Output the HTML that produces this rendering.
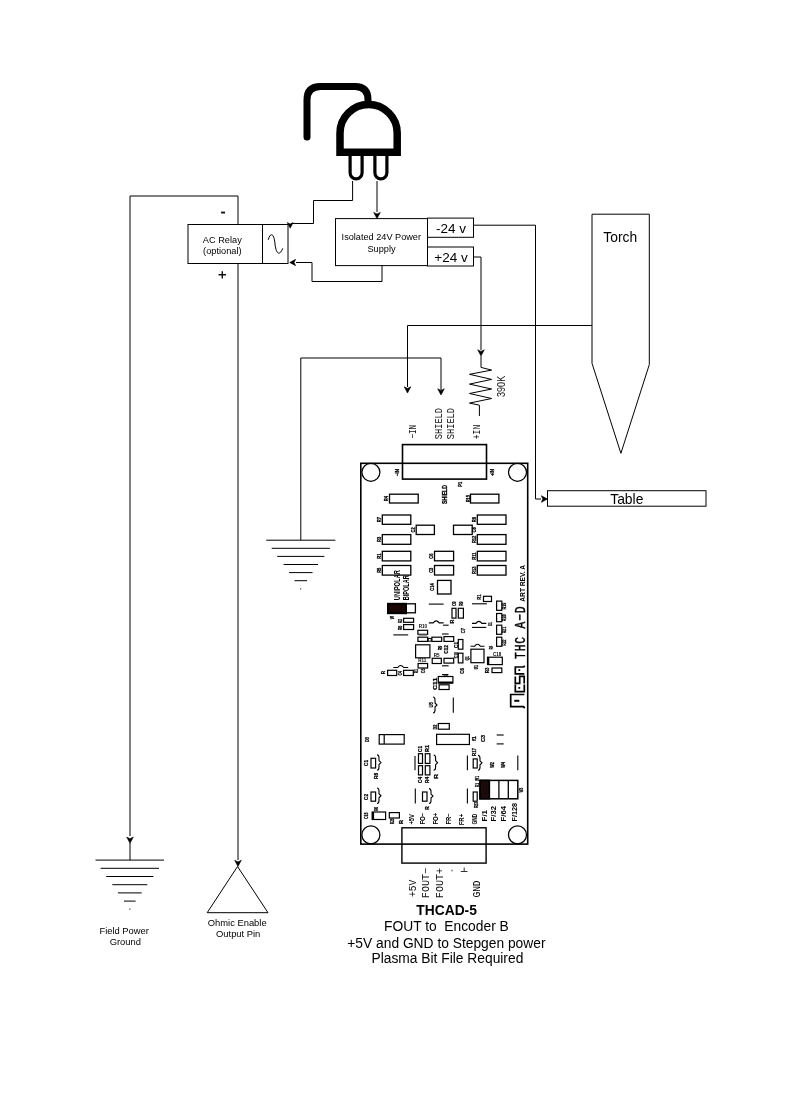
<!DOCTYPE html>
<html><head><meta charset="utf-8"><style>
html,body{margin:0;padding:0;background:#fff;}
body{width:787px;height:1114px;overflow:hidden;}
svg{display:block;will-change:transform;}
</style></head><body>
<svg width="787" height="1114" viewBox="0 0 787 1114">
<rect width="787" height="1114" fill="#fff"/>
<path d="M307,137 L307,100 Q307,86.5 320.5,86.5 L355,86.5 Q368,86.5 368,100 L368,104" fill="none" stroke="#000" stroke-width="7" stroke-linecap="round"/>
<path d="M340,152.2 L340,133 A28.6,28.6 0 0 1 397.2,133 L397.2,152.2 Z" fill="#fff" stroke="#000" stroke-width="7.5" stroke-linejoin="miter"/>
<path d="M350.1,156 L350.1,172.8 A6,6 0 0 0 362.1,172.8 L362.1,156" fill="none" stroke="#000" stroke-width="3.2"/>
<path d="M374.9,156 L374.9,172.8 A6,6 0 0 0 386.9,172.8 L386.9,156" fill="none" stroke="#000" stroke-width="3.2"/>
<path d="M352.6,181 L352.6,200.5 L313.5,200.5 L313.5,223.5 L291,223.5" fill="none" stroke="#000" stroke-width="1" />
<path d="M290.2,228.2 L287.22999999999996,222.61999999999998 L290.2,224.06 L293.17,222.61999999999998 Z" fill="#000" stroke="#000" stroke-width="0.6" stroke-linejoin="miter"/>
<path d="M377,181 L377,212" fill="none" stroke="#000" stroke-width="1" />
<path d="M377,218.6 L373.7,212.4 L377,214.0 L380.3,212.4 Z" fill="#000" stroke="#000" stroke-width="0.6" stroke-linejoin="miter"/>
<path d="M382,265.5 L382,281.5 L312,281.5 L312,262.5 L296,262.5" fill="none" stroke="#000" stroke-width="1" />
<path d="M289.7,262.5 L295.59,259.365 L294.07,262.5 L295.59,265.635 Z" fill="#000" stroke="#000" stroke-width="0.6" stroke-linejoin="miter"/>
<rect x="188" y="224.5" width="100" height="39" fill="none" stroke="#000" stroke-width="1" />
<path d="M262.5,224.5 L262.5,263.5" fill="none" stroke="#000" stroke-width="1" />
<path d="M268.2,239.8 C270.5,232 274,233 275,244 C276.2,255 280,255.5 282.7,248.4" fill="none" stroke="#000" stroke-width="1"/>
<text x="222.3" y="243.1" font-family="Liberation Sans" font-size="9.7" font-weight="normal" text-anchor="middle" fill="#000" textLength="38.9" lengthAdjust="spacingAndGlyphs">AC Relay</text>
<text x="222.3" y="253.6" font-family="Liberation Sans" font-size="9.7" font-weight="normal" text-anchor="middle" fill="#000" textLength="38.4" lengthAdjust="spacingAndGlyphs">(optional)</text>
<rect x="221.1" y="211.6" width="3.9" height="1.9" fill="#111"/>
<path d="M218.6,274.8 L226,274.8 M222.3,271.2 L222.3,278.4" stroke="#111" stroke-width="1.4"/>
<path d="M130,836 L130,196 L238,196 L238,224.5" fill="none" stroke="#000" stroke-width="1" />
<path d="M130,843.3 L126.7,837.0999999999999 L130,838.6999999999999 L133.3,837.0999999999999 Z" fill="#000" stroke="#000" stroke-width="0.6" stroke-linejoin="miter"/>
<path d="M130,843 L130,860.1" fill="none" stroke="#000" stroke-width="1" />
<path d="M238,263.5 L238,860" fill="none" stroke="#000" stroke-width="1" />
<path d="M238,866.5 L234.7,860.3 L238,861.9 L241.3,860.3 Z" fill="#000" stroke="#000" stroke-width="0.6" stroke-linejoin="miter"/>
<rect x="335.5" y="218.6" width="92" height="47" fill="none" stroke="#000" stroke-width="1" />
<text x="381.3" y="240.4" font-family="Liberation Sans" font-size="9.5" font-weight="normal" text-anchor="middle" fill="#000" textLength="79.4" lengthAdjust="spacingAndGlyphs">Isolated 24V Power</text>
<text x="381.5" y="251.5" font-family="Liberation Sans" font-size="9.2" font-weight="normal" text-anchor="middle" fill="#000" >Supply</text>
<rect x="427.5" y="218.1" width="46" height="19.2" fill="none" stroke="#000" stroke-width="1" />
<text x="451" y="232.5" font-family="Liberation Sans" font-size="13.5" font-weight="normal" text-anchor="middle" fill="#000" >-24 v</text>
<rect x="427.5" y="247" width="46" height="19" fill="none" stroke="#000" stroke-width="1" />
<text x="451" y="261.5" font-family="Liberation Sans" font-size="13.5" font-weight="normal" text-anchor="middle" fill="#000" >+24 v</text>
<path d="M473.5,225.2 L535.5,225.2 L535.5,499 L541,499" fill="none" stroke="#000" stroke-width="1" />
<path d="M547.5,499 L541.3,495.7 L542.9,499 L541.3,502.3 Z" fill="#000" stroke="#000" stroke-width="0.6" stroke-linejoin="miter"/>
<rect x="547.5" y="490.7" width="158.5" height="15.5" fill="none" stroke="#000" stroke-width="1" />
<text x="626.8" y="503.8" font-family="Liberation Sans" font-size="13.9" font-weight="normal" text-anchor="middle" fill="#000" >Table</text>
<path d="M473.5,257 L481,257 L481,350" fill="none" stroke="#000" stroke-width="1" />
<path d="M481,356 L477.7,349.8 L481,351.4 L484.3,349.8 Z" fill="#000" stroke="#000" stroke-width="0.6" stroke-linejoin="miter"/>
<path d="M481,356 L481,367.4 L491.6,370.1 L469.5,374.3 L491.6,379.4 L469.5,384.1 L491.6,389 L469.5,393.5 L491.6,398.5 L469.5,403.1 L479.4,405.2 L479.4,416" fill="none" stroke="#000" stroke-width="1" />
<text font-family="Liberation Sans" font-size="10.4" font-weight="normal" fill="#111" textLength="21.2" lengthAdjust="spacingAndGlyphs" transform="translate(504.9 397) rotate(-90)">390K</text>
<path d="M592,214.2 L649.3,214.2 L649.3,364.6 L620.9,453.3 L592,363.3 Z" fill="none" stroke="#000" stroke-width="1"/>
<text x="620.2" y="242" font-family="Liberation Sans" font-size="13.8" font-weight="normal" text-anchor="middle" fill="#000" >Torch</text>
<path d="M592,325.5 L407.5,325.5 L407.5,387" fill="none" stroke="#000" stroke-width="1" />
<path d="M407.5,393 L404.2,386.8 L407.5,388.4 L410.8,386.8 Z" fill="#000" stroke="#000" stroke-width="0.6" stroke-linejoin="miter"/>
<path d="M300.8,540.2 L300.8,358 L441,358 L441,390" fill="none" stroke="#000" stroke-width="1" />
<path d="M441,395 L437.7,388.8 L441,390.4 L444.3,388.8 Z" fill="#000" stroke="#000" stroke-width="0.6" stroke-linejoin="miter"/>
<path d="M266.2,540.2 L335.40000000000003,540.2" stroke="#000" stroke-width="1"/>
<path d="M271.7,548.3000000000001 L329.90000000000003,548.3000000000001" stroke="#000" stroke-width="1"/>
<path d="M277.2,556.4000000000001 L324.40000000000003,556.4000000000001" stroke="#000" stroke-width="1"/>
<path d="M283.6,564.5 L318.0,564.5" stroke="#000" stroke-width="1"/>
<path d="M289.1,572.6 L312.5,572.6" stroke="#000" stroke-width="1"/>
<path d="M294.5,580.7 L307.1,580.7" stroke="#000" stroke-width="1"/>
<rect x="300" y="588.3" width="1.2" height="1.2" fill="#444"/>
<path d="M95.50000000000001,860.1 L164.10000000000002,860.1" stroke="#000" stroke-width="1"/>
<path d="M100.60000000000001,868.3000000000001 L159.0,868.3000000000001" stroke="#000" stroke-width="1"/>
<path d="M106.20000000000002,876.5 L153.4,876.5" stroke="#000" stroke-width="1"/>
<path d="M112.30000000000001,884.7 L147.3,884.7" stroke="#000" stroke-width="1"/>
<path d="M117.9,892.9 L141.70000000000002,892.9" stroke="#000" stroke-width="1"/>
<path d="M124.00000000000001,901.1 L135.60000000000002,901.1" stroke="#000" stroke-width="1"/>
<rect x="129.2" y="908.5" width="1.2" height="1.2" fill="#444"/>
<text x="124.2" y="934.3" font-family="Liberation Sans" font-size="9.4" font-weight="normal" text-anchor="middle" fill="#000" >Field Power</text>
<text x="125.3" y="944.7" font-family="Liberation Sans" font-size="9.4" font-weight="normal" text-anchor="middle" fill="#000" >Ground</text>
<path d="M237.5,866.5 L268,912.7 L207.2,912.7 Z" fill="none" stroke="#000" stroke-width="1"/>
<text x="237.2" y="926.3" font-family="Liberation Sans" font-size="9.4" font-weight="normal" text-anchor="middle" fill="#000" >Ohmic Enable</text>
<text x="238.2" y="937.2" font-family="Liberation Sans" font-size="9.4" font-weight="normal" text-anchor="middle" fill="#000" >Output Pin</text>
<text x="446.6" y="915.2" font-family="Liberation Sans" font-size="13.8" font-weight="bold" text-anchor="middle" fill="#000" >THCAD-5</text>
<text x="446.4" y="931.3" font-family="Liberation Sans" font-size="13.8" font-weight="normal" text-anchor="middle" fill="#000" >FOUT to&#160; Encoder B</text>
<text x="446.4" y="947.8" font-family="Liberation Sans" font-size="13.8" font-weight="normal" text-anchor="middle" fill="#000" >+5V and GND to Stepgen power</text>
<text x="447.4" y="962.6" font-family="Liberation Sans" font-size="13.8" font-weight="normal" text-anchor="middle" fill="#000" >Plasma Bit File Required</text>
<rect x="402.5" y="444.6" width="84" height="34.5" fill="none" stroke="#000" stroke-width="1.6" />
<rect x="360.8" y="463.3" width="166.9" height="380.8" fill="none" stroke="#000" stroke-width="1.6" />
<circle cx="370.9" cy="472.3" r="9.0" fill="none" stroke="#000" stroke-width="1.25"/>
<circle cx="517.5" cy="472.3" r="9.0" fill="none" stroke="#000" stroke-width="1.25"/>
<circle cx="370.9" cy="834.9" r="9.0" fill="none" stroke="#000" stroke-width="1.25"/>
<circle cx="517.5" cy="834.9" r="9.0" fill="none" stroke="#000" stroke-width="1.25"/>
<rect x="401.9" y="827.8" width="84.2" height="35.3" fill="none" stroke="#000" stroke-width="1.4" />
<text font-family="Liberation Mono" font-size="10.6" font-weight="normal" fill="#111" textLength="13.8" lengthAdjust="spacingAndGlyphs" transform="translate(416.2 438.6) rotate(-90)">&#8722;IN</text>
<text font-family="Liberation Mono" font-size="10.6" font-weight="normal" fill="#111" textLength="31.2" lengthAdjust="spacingAndGlyphs" transform="translate(441.6 439.2) rotate(-90)">SHIELD</text>
<text font-family="Liberation Mono" font-size="10.6" font-weight="normal" fill="#111" textLength="31.2" lengthAdjust="spacingAndGlyphs" transform="translate(454.4 439.2) rotate(-90)">SHIELD</text>
<text font-family="Liberation Mono" font-size="10.6" font-weight="normal" fill="#111" textLength="14.4" lengthAdjust="spacingAndGlyphs" transform="translate(479.8 439.2) rotate(-90)">+IN</text>
<text font-family="Liberation Mono" font-size="10.6" font-weight="normal" fill="#111" textLength="17.2" lengthAdjust="spacingAndGlyphs" transform="translate(415.6 897) rotate(-90)">+5V</text>
<text font-family="Liberation Mono" font-size="10.6" font-weight="normal" fill="#111" textLength="30.4" lengthAdjust="spacingAndGlyphs" transform="translate(429.4 898.2) rotate(-90)">FOUT&#8722;</text>
<text font-family="Liberation Mono" font-size="10.6" font-weight="normal" fill="#111" textLength="30.4" lengthAdjust="spacingAndGlyphs" transform="translate(442.5 898.2) rotate(-90)">FOUT+</text>
<path d="M452,869.6 L452,871.4" stroke="#444" stroke-width="1"/>
<path d="M460.8,871.5 L467.5,871.5 M464.2,867.5 L464.2,871.5" stroke="#333" stroke-width="1"/>
<text font-family="Liberation Mono" font-size="10.6" font-weight="normal" fill="#000" textLength="17.2" lengthAdjust="spacingAndGlyphs" transform="translate(480.2 897.6) rotate(-90)">GND</text>
<rect x="389.5" y="494.2" width="28.69999999999999" height="8.800000000000011" fill="none" stroke="#000" stroke-width="1.3" />
<rect x="470.5" y="494.2" width="28.399999999999977" height="8.800000000000011" fill="none" stroke="#000" stroke-width="1.3" />
<rect x="382.3" y="515" width="28.5" height="9.299999999999955" fill="none" stroke="#000" stroke-width="1.3" />
<rect x="477.3" y="515" width="28.69999999999999" height="9.299999999999955" fill="none" stroke="#000" stroke-width="1.3" />
<rect x="382.3" y="534.6" width="28.5" height="9.699999999999932" fill="none" stroke="#000" stroke-width="1.3" />
<rect x="477.3" y="534.6" width="28.69999999999999" height="9.699999999999932" fill="none" stroke="#000" stroke-width="1.3" />
<rect x="382.3" y="551.3" width="28.5" height="9.600000000000023" fill="none" stroke="#000" stroke-width="1.3" />
<rect x="477.3" y="551.3" width="28.69999999999999" height="9.600000000000023" fill="none" stroke="#000" stroke-width="1.3" />
<rect x="382.3" y="565.5" width="28.5" height="9.600000000000023" fill="none" stroke="#000" stroke-width="1.3" />
<rect x="477.3" y="565.5" width="28.69999999999999" height="9.600000000000023" fill="none" stroke="#000" stroke-width="1.3" />
<rect x="416.2" y="525.2" width="18.19999999999999" height="9.299999999999955" fill="none" stroke="#000" stroke-width="1.3" />
<rect x="453.5" y="525.2" width="18.69999999999999" height="9.299999999999955" fill="none" stroke="#000" stroke-width="1.3" />
<rect x="434.5" y="551.3" width="19.100000000000023" height="9.5" fill="none" stroke="#000" stroke-width="1.3" />
<rect x="434.5" y="565.5" width="19.100000000000023" height="9.5" fill="none" stroke="#000" stroke-width="1.3" />
<rect x="437.5" y="580.4" width="13.5" height="13.600000000000023" fill="none" stroke="#000" stroke-width="1.3" />
<text font-family="Liberation Sans" font-size="5.5" font-weight="bold" fill="#000" stroke="#000" stroke-width="0.3" transform="translate(399 472.5) rotate(-90) scale(0.8 1)" text-anchor="middle">&#8722;IN</text>
<text font-family="Liberation Sans" font-size="5.5" font-weight="bold" fill="#000" stroke="#000" stroke-width="0.3" transform="translate(494 472.5) rotate(-90) scale(0.8 1)" text-anchor="middle">+IN</text>
<text font-family="Liberation Sans" font-size="6.5" font-weight="bold" fill="#000" stroke="#000" stroke-width="0.3" transform="translate(447 494.5) rotate(-90) scale(0.8 1)" text-anchor="middle">SHIELD</text>
<text font-family="Liberation Sans" font-size="5" font-weight="bold" fill="#000" stroke="#000" stroke-width="0.3" transform="translate(462 484.2) rotate(-90) scale(0.8 1)" text-anchor="middle">P1</text>
<text font-family="Liberation Sans" font-size="5" font-weight="bold" fill="#000" stroke="#000" stroke-width="0.3" transform="translate(387.8 498.6) rotate(-90) scale(0.8 1)" text-anchor="middle">R4</text>
<text font-family="Liberation Sans" font-size="5" font-weight="bold" fill="#000" stroke="#000" stroke-width="0.3" transform="translate(469.5 498.6) rotate(-90) scale(0.8 1)" text-anchor="middle">R15</text>
<text font-family="Liberation Sans" font-size="5" font-weight="bold" fill="#000" stroke="#000" stroke-width="0.3" transform="translate(381 519.7) rotate(-90) scale(0.8 1)" text-anchor="middle">R7</text>
<text font-family="Liberation Sans" font-size="5" font-weight="bold" fill="#000" stroke="#000" stroke-width="0.3" transform="translate(381 539.4) rotate(-90) scale(0.8 1)" text-anchor="middle">R3</text>
<text font-family="Liberation Sans" font-size="5" font-weight="bold" fill="#000" stroke="#000" stroke-width="0.3" transform="translate(381 556.1) rotate(-90) scale(0.8 1)" text-anchor="middle">R1</text>
<text font-family="Liberation Sans" font-size="5" font-weight="bold" fill="#000" stroke="#000" stroke-width="0.3" transform="translate(381 570.3) rotate(-90) scale(0.8 1)" text-anchor="middle">R5</text>
<text font-family="Liberation Sans" font-size="5" font-weight="bold" fill="#000" stroke="#000" stroke-width="0.3" transform="translate(476 519.7) rotate(-90) scale(0.8 1)" text-anchor="middle">R8</text>
<text font-family="Liberation Sans" font-size="5" font-weight="bold" fill="#000" stroke="#000" stroke-width="0.3" transform="translate(476 539.4) rotate(-90) scale(0.8 1)" text-anchor="middle">R12</text>
<text font-family="Liberation Sans" font-size="5" font-weight="bold" fill="#000" stroke="#000" stroke-width="0.3" transform="translate(476 556.1) rotate(-90) scale(0.8 1)" text-anchor="middle">R11</text>
<text font-family="Liberation Sans" font-size="5" font-weight="bold" fill="#000" stroke="#000" stroke-width="0.3" transform="translate(476 570.3) rotate(-90) scale(0.8 1)" text-anchor="middle">R13</text>
<text font-family="Liberation Sans" font-size="5" font-weight="bold" fill="#000" stroke="#000" stroke-width="0.3" transform="translate(414.5 529.9) rotate(-90) scale(0.8 1)" text-anchor="middle">C2</text>
<text font-family="Liberation Sans" font-size="5" font-weight="bold" fill="#000" stroke="#000" stroke-width="0.3" transform="translate(476 529.9) rotate(-90) scale(0.8 1)" text-anchor="middle">C8</text>
<text font-family="Liberation Sans" font-size="5" font-weight="bold" fill="#000" stroke="#000" stroke-width="0.3" transform="translate(433 556.1) rotate(-90) scale(0.8 1)" text-anchor="middle">C6</text>
<text font-family="Liberation Sans" font-size="5" font-weight="bold" fill="#000" stroke="#000" stroke-width="0.3" transform="translate(433 570.3) rotate(-90) scale(0.8 1)" text-anchor="middle">C3</text>
<text font-family="Liberation Sans" font-size="5" font-weight="bold" fill="#000" stroke="#000" stroke-width="0.3" transform="translate(434 587) rotate(-90) scale(0.8 1)" text-anchor="middle">C14</text>
<text font-family="Liberation Sans" font-size="8.6" font-weight="bold" fill="#000" textLength="30.2" lengthAdjust="spacingAndGlyphs" transform="translate(399.6 600.2) rotate(-90)">UNIPOLAR</text>
<text font-family="Liberation Sans" font-size="8.6" font-weight="bold" fill="#000" textLength="24.9" lengthAdjust="spacingAndGlyphs" transform="translate(409.0 600.2) rotate(-90)">BIPOLAR</text>
<rect x="405" y="603.8" width="10.4" height="9" fill="none" stroke="#000" stroke-width="1.3" />
<rect x="388" y="603.8" width="18" height="9.4" fill="#1a0505" stroke="#000" stroke-width="2" />
<text font-family="Liberation Sans" font-size="7.4" font-weight="bold" fill="#000" transform="translate(524.9 601.7) rotate(-90) scale(0.9 1)">ART REV. A</text>
<text font-family="Liberation Mono" font-size="15.2" fill="#000" stroke="#000" stroke-width="0.45" letter-spacing="1.05" transform="translate(524.6 658.9) rotate(-90) scale(0.75 1)">THC A&#8722;D</text>
<path d="M523.8,667 L515.3,667 L515.3,673.8 L524.4,673.8 M523.6,667.2 L524.6,665.6" fill="none" stroke="#000" stroke-width="1.7" stroke-linejoin="miter"/>
<rect x="518.4" y="669.2" width="1.8" height="1.8" fill="#000"/>
<path d="M515.3,676.4 L515.3,683.4 L519.7,683.4 L519.7,676.4 L524.2,676.4 L524.2,683.4" fill="none" stroke="#000" stroke-width="1.7" stroke-linejoin="miter"/>
<path d="M515.3,684.6 L515.3,691.6 L524.3,691.6 L524.3,684.6" fill="none" stroke="#000" stroke-width="1.7" stroke-linejoin="miter"/>
<rect x="518.4" y="687" width="1.8" height="1.8" fill="#000"/>
<path d="M524.4,694.5 L510.7,694.5 L510.7,706.6 L523.6,706.6 L524.6,708.3" fill="none" stroke="#000" stroke-width="1.7" stroke-linejoin="miter"/>
<path d="M514.3,700.8 L519.3,700.8" stroke="#000" stroke-width="2"/>
<rect x="403.6" y="618.3" width="10.0" height="4.0" fill="none" stroke="#000" stroke-width="1.2" />
<rect x="403.6" y="624.6" width="10.0" height="4.899999999999977" fill="none" stroke="#000" stroke-width="1.2" />
<rect x="417.9" y="630.3" width="9.700000000000045" height="4.0" fill="none" stroke="#000" stroke-width="1.2" />
<rect x="417.9" y="637.2" width="9.700000000000045" height="4.199999999999932" fill="none" stroke="#000" stroke-width="1.2" />
<rect x="431.9" y="637.2" width="9.800000000000011" height="4.199999999999932" fill="none" stroke="#000" stroke-width="1.2" />
<rect x="415.6" y="644.8" width="14.299999999999955" height="13.0" fill="none" stroke="#000" stroke-width="1.2" />
<rect x="418.1" y="663.5" width="9.5" height="4.5" fill="none" stroke="#000" stroke-width="1.2" />
<rect x="387.6" y="670.3" width="9.099999999999966" height="5.2000000000000455" fill="none" stroke="#000" stroke-width="1.2" />
<rect x="403.6" y="670.3" width="9.699999999999989" height="5.2000000000000455" fill="none" stroke="#000" stroke-width="1.2" />
<rect x="432.2" y="658.3" width="9.100000000000023" height="5.2000000000000455" fill="none" stroke="#000" stroke-width="1.2" />
<rect x="483.5" y="596.3" width="8.0" height="5.2000000000000455" fill="none" stroke="#000" stroke-width="1.2" />
<rect x="452" y="608.3" width="4" height="9.800000000000068" fill="none" stroke="#000" stroke-width="1.2" />
<rect x="458.3" y="608.3" width="5.099999999999966" height="9.800000000000068" fill="none" stroke="#000" stroke-width="1.2" />
<rect x="496.6" y="601.1" width="5.199999999999989" height="9.199999999999932" fill="none" stroke="#000" stroke-width="1.2" />
<rect x="496.6" y="613.5" width="5.199999999999989" height="8.200000000000045" fill="none" stroke="#000" stroke-width="1.2" />
<rect x="496.6" y="625.2" width="5.199999999999989" height="9.099999999999909" fill="none" stroke="#000" stroke-width="1.2" />
<rect x="496.6" y="637.2" width="5.199999999999989" height="9.099999999999909" fill="none" stroke="#000" stroke-width="1.2" />
<rect x="444" y="636.6" width="9.699999999999989" height="4.7999999999999545" fill="none" stroke="#000" stroke-width="1.2" />
<rect x="458.3" y="639.5" width="4.599999999999966" height="9.700000000000045" fill="none" stroke="#000" stroke-width="1.2" />
<rect x="458.3" y="653.2" width="4.599999999999966" height="9.699999999999932" fill="none" stroke="#000" stroke-width="1.2" />
<rect x="444" y="658.3" width="9.699999999999989" height="4.800000000000068" fill="none" stroke="#000" stroke-width="1.2" />
<rect x="470.9" y="649.2" width="13.100000000000023" height="13.5" fill="none" stroke="#000" stroke-width="1.2" />
<rect x="487.5" y="657.2" width="14.800000000000011" height="7.399999999999977" fill="none" stroke="#000" stroke-width="1.2" />
<rect x="492" y="668" width="9.800000000000011" height="4.600000000000023" fill="none" stroke="#000" stroke-width="1.2" />
<rect x="438.3" y="676.5" width="14.599999999999966" height="6.399999999999977" fill="none" stroke="#000" stroke-width="1.2" />
<rect x="439.1" y="684.8" width="10.0" height="4.7000000000000455" fill="none" stroke="#000" stroke-width="1.2" />
<rect x="438.3" y="723.5" width="11.0" height="5.7000000000000455" fill="none" stroke="#000" stroke-width="1.2" />
<rect x="436.6" y="734.3" width="32.799999999999955" height="10.200000000000045" fill="none" stroke="#000" stroke-width="1.2" />
<rect x="379.2" y="734.6" width="25.0" height="9.5" fill="none" stroke="#000" stroke-width="1.2" />
<rect x="371" y="758.3" width="4.600000000000023" height="9.700000000000045" fill="none" stroke="#000" stroke-width="1.2" />
<rect x="371" y="792" width="4.600000000000023" height="9.200000000000045" fill="none" stroke="#000" stroke-width="1.2" />
<rect x="372.2" y="812" width="13.400000000000034" height="7.5" fill="none" stroke="#000" stroke-width="1.2" />
<rect x="389.3" y="812.6" width="10.099999999999966" height="5.399999999999977" fill="none" stroke="#000" stroke-width="1.2" />
<rect x="418.5" y="753.7" width="4.0" height="9.699999999999932" fill="none" stroke="#000" stroke-width="1.2" />
<rect x="425.3" y="753.7" width="4.599999999999966" height="9.699999999999932" fill="none" stroke="#000" stroke-width="1.2" />
<rect x="418.5" y="765.7" width="4.0" height="9.199999999999932" fill="none" stroke="#000" stroke-width="1.2" />
<rect x="425.3" y="765.7" width="4.599999999999966" height="9.199999999999932" fill="none" stroke="#000" stroke-width="1.2" />
<rect x="422.5" y="792" width="4.5" height="9.200000000000045" fill="none" stroke="#000" stroke-width="1.2" />
<rect x="473.2" y="758.9" width="4.0" height="9.100000000000023" fill="none" stroke="#000" stroke-width="1.2" />
<rect x="473.2" y="792" width="4.0" height="9.200000000000045" fill="none" stroke="#000" stroke-width="1.2" />
<path d="M384.2,734.6 L384.2,744.1" fill="none" stroke="#000" stroke-width="1.2" />
<path d="M428.8,604.1 L443.6,604.1" fill="none" stroke="#000" stroke-width="1.1" />
<path d="M472,603.8 L486.9,603.8" fill="none" stroke="#000" stroke-width="1.1" />
<path d="M393.3,634.9 L408.2,634.9" fill="none" stroke="#000" stroke-width="1.1" />
<path d="M472,627.4 L486.3,627.4" fill="none" stroke="#000" stroke-width="1.1" />
<path d="M496.7,735 L503.7,735" fill="none" stroke="#000" stroke-width="1.1" />
<path d="M496.7,743.9 L503.7,743.9" fill="none" stroke="#000" stroke-width="1.1" />
<path d="M442,674.6 L448.4,674.6" fill="none" stroke="#000" stroke-width="1.1" />
<path d="M453.3,697.5 L453.3,712.7" fill="none" stroke="#000" stroke-width="1.1" />
<path d="M415,756 L415,770.3" fill="none" stroke="#000" stroke-width="1.1" />
<path d="M415.3,788.6 L415.3,803.5" fill="none" stroke="#000" stroke-width="1.1" />
<path d="M467.4,755.4 L467.4,770.3" fill="none" stroke="#000" stroke-width="1.1" />
<path d="M517.8,755.4 L517.8,770.3" fill="none" stroke="#000" stroke-width="1.1" />
<path d="M467.4,788.6 L467.4,803.5" fill="none" stroke="#000" stroke-width="1.1" />
<path d="M428.8,622.9 L433.2,622.9 Q436.2,618.9 439.2,622.9 L443.6,622.9" fill="none" stroke="#000" stroke-width="1.1"/>
<path d="M472,623.4 L475.9,623.4 Q478.9,619.4 481.9,623.4 L486.3,623.4" fill="none" stroke="#000" stroke-width="1.1"/>
<path d="M393.3,667.5 L397.7,667.5 Q400.7,663.5 403.7,667.5 L408.2,667.5" fill="none" stroke="#000" stroke-width="1.1"/>
<path d="M470.5,646.3 L474.5,646.3 Q477.5,642.3 480.5,646.3 L484.5,646.3" fill="none" stroke="#000" stroke-width="1.1"/>
<path d="M377,754.9 Q379,754.9 379,757.9 L379,760.5999999999999 L381,762.5999999999999 L379,764.5999999999999 L379,767.3 Q379,770.3 377,770.3" fill="none" stroke="#000" stroke-width="1.1"/>
<path d="M377,788 Q379,788 379,791 L379,793.75 L381,795.75 L379,797.75 L379,800.5 Q379,803.5 377,803.5" fill="none" stroke="#000" stroke-width="1.1"/>
<path d="M433.6,755 Q435.6,755 435.6,758 L435.6,760.65 L437.6,762.65 L435.6,764.65 L435.6,767.3 Q435.6,770.3 433.6,770.3" fill="none" stroke="#000" stroke-width="1.1"/>
<path d="M429,788.6 Q431,788.6 431,791.6 L431,794.05 L433,796.05 L431,798.05 L431,800.5 Q431,803.5 429,803.5" fill="none" stroke="#000" stroke-width="1.1"/>
<path d="M478,755.4 Q480,755.4 480,758.4 L480,760.8499999999999 L482,762.8499999999999 L480,764.8499999999999 L480,767.3 Q480,770.3 478,770.3" fill="none" stroke="#000" stroke-width="1.1"/>
<path d="M433,697 Q435,697 435,700 L435,703.0 L437,705.0 L435,707.0 L435,710 Q435,713 433,713" fill="none" stroke="#000" stroke-width="1.1"/>
<text font-family="Liberation Sans" font-size="5" font-weight="bold" fill="#000" stroke="#000" stroke-width="0.25" textLength="3.2000000000000455" lengthAdjust="spacingAndGlyphs" transform="translate(393.6 619.2) rotate(-90)">W</text>
<text font-family="Liberation Sans" font-size="5" font-weight="bold" fill="#000" stroke="#000" stroke-width="0.25" textLength="4.0" lengthAdjust="spacingAndGlyphs" transform="translate(401.8 622.9) rotate(-90)">R2</text>
<text font-family="Liberation Sans" font-size="5" font-weight="bold" fill="#000" stroke="#000" stroke-width="0.25" textLength="4.599999999999909" lengthAdjust="spacingAndGlyphs" transform="translate(401.8 630.3) rotate(-90)">R6</text>
<text font-family="Liberation Sans" font-size="5" font-weight="bold" fill="#000" stroke="#000" stroke-width="0.25" textLength="4.599999999999909" lengthAdjust="spacingAndGlyphs" transform="translate(441.8 650.3) rotate(-90)">R9</text>
<text font-family="Liberation Sans" font-size="5" font-weight="bold" fill="#000" stroke="#000" stroke-width="0.25" textLength="8.799999999999955" lengthAdjust="spacingAndGlyphs" transform="translate(447.6 653.8) rotate(-90)">C12</text>
<text font-family="Liberation Sans" font-size="5" font-weight="bold" fill="#000" stroke="#000" stroke-width="0.25" textLength="4.600000000000023" lengthAdjust="spacingAndGlyphs" transform="translate(424.7 673.2) rotate(-90)">C5</text>
<text font-family="Liberation Sans" font-size="5" font-weight="bold" fill="#000" stroke="#000" stroke-width="0.25" textLength="3.2999999999999545" lengthAdjust="spacingAndGlyphs" transform="translate(385.2 674.3) rotate(-90)">R</text>
<text font-family="Liberation Sans" font-size="5" font-weight="bold" fill="#000" stroke="#000" stroke-width="0.25" textLength="4.5" lengthAdjust="spacingAndGlyphs" transform="translate(402.40000000000003 675.5) rotate(-90)">C4</text>
<text font-family="Liberation Sans" font-size="5" font-weight="bold" fill="#000" stroke="#000" stroke-width="0.25" textLength="4.0" lengthAdjust="spacingAndGlyphs" transform="translate(417.8 673.2) rotate(-90)">R1</text>
<text font-family="Liberation Sans" font-size="5" font-weight="bold" fill="#000" stroke="#000" stroke-width="0.25" textLength="12.200000000000045" lengthAdjust="spacingAndGlyphs" transform="translate(437.3 690) rotate(-90)">C11</text>
<text font-family="Liberation Sans" font-size="5" font-weight="bold" fill="#000" stroke="#000" stroke-width="0.25" textLength="5.199999999999932" lengthAdjust="spacingAndGlyphs" transform="translate(481.3 599.8) rotate(-90)">R1</text>
<text font-family="Liberation Sans" font-size="5" font-weight="bold" fill="#000" stroke="#000" stroke-width="0.25" textLength="4.5" lengthAdjust="spacingAndGlyphs" transform="translate(455.5 606) rotate(-90)">C9</text>
<text font-family="Liberation Sans" font-size="5" font-weight="bold" fill="#000" stroke="#000" stroke-width="0.25" textLength="4.5" lengthAdjust="spacingAndGlyphs" transform="translate(463.0 606) rotate(-90)">R9</text>
<text font-family="Liberation Sans" font-size="5" font-weight="bold" fill="#000" stroke="#000" stroke-width="0.25" textLength="7.0" lengthAdjust="spacingAndGlyphs" transform="translate(506.40000000000003 609.5) rotate(-90)">R19</text>
<text font-family="Liberation Sans" font-size="5" font-weight="bold" fill="#000" stroke="#000" stroke-width="0.25" textLength="3.8999999999999773" lengthAdjust="spacingAndGlyphs" transform="translate(453.8 623.4) rotate(-90)">R</text>
<text font-family="Liberation Sans" font-size="5" font-weight="bold" fill="#000" stroke="#000" stroke-width="0.25" textLength="5.2000000000000455" lengthAdjust="spacingAndGlyphs" transform="translate(465.2 633.2) rotate(-90)">C7</text>
<text font-family="Liberation Sans" font-size="5" font-weight="bold" fill="#000" stroke="#000" stroke-width="0.25" textLength="3.400000000000091" lengthAdjust="spacingAndGlyphs" transform="translate(492.1 625.7) rotate(-90)">D1</text>
<text font-family="Liberation Sans" font-size="5" font-weight="bold" fill="#000" stroke="#000" stroke-width="0.25" textLength="6.7000000000000455" lengthAdjust="spacingAndGlyphs" transform="translate(506.40000000000003 621.2) rotate(-90)">R20</text>
<text font-family="Liberation Sans" font-size="5" font-weight="bold" fill="#000" stroke="#000" stroke-width="0.25" textLength="6.300000000000068" lengthAdjust="spacingAndGlyphs" transform="translate(506.40000000000003 633.2) rotate(-90)">R21</text>
<text font-family="Liberation Sans" font-size="5" font-weight="bold" fill="#000" stroke="#000" stroke-width="0.25" textLength="6.2000000000000455" lengthAdjust="spacingAndGlyphs" transform="translate(506.40000000000003 645.7) rotate(-90)">R22</text>
<text font-family="Liberation Sans" font-size="5" font-weight="bold" fill="#000" stroke="#000" stroke-width="0.25" textLength="3.5" lengthAdjust="spacingAndGlyphs" transform="translate(492.7 649.2) rotate(-90)">R4</text>
<text font-family="Liberation Sans" font-size="5" font-weight="bold" fill="#000" stroke="#000" stroke-width="0.25" textLength="6" lengthAdjust="spacingAndGlyphs" transform="translate(457.8 648) rotate(-90)">C1</text>
<text font-family="Liberation Sans" font-size="5" font-weight="bold" fill="#000" stroke="#000" stroke-width="0.25" textLength="6.2999999999999545" lengthAdjust="spacingAndGlyphs" transform="translate(457.8 658.3) rotate(-90)">C10</text>
<text font-family="Liberation Sans" font-size="5" font-weight="bold" fill="#000" stroke="#000" stroke-width="0.25" textLength="4.600000000000023" lengthAdjust="spacingAndGlyphs" transform="translate(469.2 660.6) rotate(-90)">Q1</text>
<text font-family="Liberation Sans" font-size="5" font-weight="bold" fill="#000" stroke="#000" stroke-width="0.25" textLength="4.0" lengthAdjust="spacingAndGlyphs" transform="translate(478.40000000000003 669.2) rotate(-90)">U1</text>
<text font-family="Liberation Sans" font-size="5" font-weight="bold" fill="#000" stroke="#000" stroke-width="0.25" textLength="5.7000000000000455" lengthAdjust="spacingAndGlyphs" transform="translate(488.7 673.2) rotate(-90)">R3</text>
<text font-family="Liberation Sans" font-size="5" font-weight="bold" fill="#000" stroke="#000" stroke-width="0.25" textLength="5.7999999999999545" lengthAdjust="spacingAndGlyphs" transform="translate(464.1 673.8) rotate(-90)">C6</text>
<text font-family="Liberation Sans" font-size="5" font-weight="bold" fill="#000" stroke="#000" stroke-width="0.25" textLength="5" lengthAdjust="spacingAndGlyphs" transform="translate(369.2 742) rotate(-90)">D3</text>
<text font-family="Liberation Sans" font-size="5" font-weight="bold" fill="#000" stroke="#000" stroke-width="0.25" textLength="5" lengthAdjust="spacingAndGlyphs" transform="translate(476.3 741) rotate(-90)">f1</text>
<text font-family="Liberation Sans" font-size="5" font-weight="bold" fill="#000" stroke="#000" stroke-width="0.25" textLength="7" lengthAdjust="spacingAndGlyphs" transform="translate(485.2 742) rotate(-90)">C3</text>
<text font-family="Liberation Sans" font-size="5" font-weight="bold" fill="#000" stroke="#000" stroke-width="0.25" textLength="6" lengthAdjust="spacingAndGlyphs" transform="translate(367.8 766) rotate(-90)">C1</text>
<text font-family="Liberation Sans" font-size="5" font-weight="bold" fill="#000" stroke="#000" stroke-width="0.25" textLength="6" lengthAdjust="spacingAndGlyphs" transform="translate(377.8 779) rotate(-90)">R8</text>
<text font-family="Liberation Sans" font-size="5" font-weight="bold" fill="#000" stroke="#000" stroke-width="0.25" textLength="6" lengthAdjust="spacingAndGlyphs" transform="translate(367.8 800) rotate(-90)">C2</text>
<text font-family="Liberation Sans" font-size="5" font-weight="bold" fill="#000" stroke="#000" stroke-width="0.25" textLength="4" lengthAdjust="spacingAndGlyphs" transform="translate(377.8 811) rotate(-90)">R6</text>
<text font-family="Liberation Sans" font-size="5" font-weight="bold" fill="#000" stroke="#000" stroke-width="0.25" textLength="6.5" lengthAdjust="spacingAndGlyphs" transform="translate(367.8 819) rotate(-90)">C15</text>
<text font-family="Liberation Sans" font-size="5" font-weight="bold" fill="#000" stroke="#000" stroke-width="0.25" textLength="5.5" lengthAdjust="spacingAndGlyphs" transform="translate(393.8 824) rotate(-90)">R25</text>
<text font-family="Liberation Sans" font-size="5" font-weight="bold" fill="#000" stroke="#000" stroke-width="0.25" textLength="4" lengthAdjust="spacingAndGlyphs" transform="translate(402.8 824) rotate(-90)">R</text>
<text font-family="Liberation Sans" font-size="5" font-weight="bold" fill="#000" stroke="#000" stroke-width="0.25" textLength="6" lengthAdjust="spacingAndGlyphs" transform="translate(422.3 752) rotate(-90)">C1</text>
<text font-family="Liberation Sans" font-size="5" font-weight="bold" fill="#000" stroke="#000" stroke-width="0.25" textLength="7" lengthAdjust="spacingAndGlyphs" transform="translate(429.3 752) rotate(-90)">R1</text>
<text font-family="Liberation Sans" font-size="5" font-weight="bold" fill="#000" stroke="#000" stroke-width="0.25" textLength="6" lengthAdjust="spacingAndGlyphs" transform="translate(422.3 783) rotate(-90)">C4</text>
<text font-family="Liberation Sans" font-size="5" font-weight="bold" fill="#000" stroke="#000" stroke-width="0.25" textLength="6" lengthAdjust="spacingAndGlyphs" transform="translate(429.3 783) rotate(-90)">R4</text>
<text font-family="Liberation Sans" font-size="5" font-weight="bold" fill="#000" stroke="#000" stroke-width="0.25" textLength="5" lengthAdjust="spacingAndGlyphs" transform="translate(438.3 779) rotate(-90)">R</text>
<text font-family="Liberation Sans" font-size="5" font-weight="bold" fill="#000" stroke="#000" stroke-width="0.25" textLength="3.5" lengthAdjust="spacingAndGlyphs" transform="translate(428.8 809.8) rotate(-90)">R</text>
<text font-family="Liberation Sans" font-size="5" font-weight="bold" fill="#000" stroke="#000" stroke-width="0.25" textLength="8" lengthAdjust="spacingAndGlyphs" transform="translate(475.8 756) rotate(-90)">R17</text>
<text font-family="Liberation Sans" font-size="5" font-weight="bold" fill="#000" stroke="#000" stroke-width="0.25" textLength="6" lengthAdjust="spacingAndGlyphs" transform="translate(494.40000000000003 768) rotate(-90)">W2</text>
<text font-family="Liberation Sans" font-size="5" font-weight="bold" fill="#000" stroke="#000" stroke-width="0.25" textLength="6" lengthAdjust="spacingAndGlyphs" transform="translate(504.7 768) rotate(-90)">W4</text>
<text font-family="Liberation Sans" font-size="5" font-weight="bold" fill="#000" stroke="#000" stroke-width="0.25" textLength="5" lengthAdjust="spacingAndGlyphs" transform="translate(479.3 781) rotate(-90)">W1</text>
<text font-family="Liberation Sans" font-size="5" font-weight="bold" fill="#000" stroke="#000" stroke-width="0.25" textLength="4" lengthAdjust="spacingAndGlyphs" transform="translate(479.3 787) rotate(-90)">R1</text>
<text font-family="Liberation Sans" font-size="5" font-weight="bold" fill="#000" stroke="#000" stroke-width="0.25" textLength="6" lengthAdjust="spacingAndGlyphs" transform="translate(477.8 808) rotate(-90)">R23</text>
<text font-family="Liberation Sans" font-size="5" font-weight="bold" fill="#000" stroke="#000" stroke-width="0.25" textLength="4.600000000000023" lengthAdjust="spacingAndGlyphs" transform="translate(523.4 792.4) rotate(-90)">W3</text>
<text font-family="Liberation Sans" font-size="5" font-weight="bold" fill="#000" stroke="#000" stroke-width="0.25" textLength="5.5" lengthAdjust="spacingAndGlyphs" transform="translate(432.8 707.5) rotate(-90)">U5</text>
<text font-family="Liberation Sans" font-size="5" font-weight="bold" fill="#000" stroke="#000" stroke-width="0.25" textLength="5.0" lengthAdjust="spacingAndGlyphs" transform="translate(436.6 729.5) rotate(-90)">D2</text>
<path d="M443,625.2 L448.6,625.2" fill="none" stroke="#000" stroke-width="1.1" />
<path d="M442,634 L448.6,634" fill="none" stroke="#000" stroke-width="1.1" />
<path d="M442,665.8 L448.6,665.8" fill="none" stroke="#000" stroke-width="1.1" />
<path d="M443.5,675 L448,675" fill="none" stroke="#000" stroke-width="1.1" />
<text x="422.9" y="628" font-family="Liberation Sans" font-size="4.5" font-weight="bold" fill="#000" text-anchor="middle">R10</text>
<text x="436.6" y="657.2" font-family="Liberation Sans" font-size="4.5" font-weight="bold" fill="#000" text-anchor="middle">R5</text>
<text x="422.3" y="662" font-family="Liberation Sans" font-size="4.5" font-weight="bold" fill="#000" text-anchor="middle">R11</text>
<text x="497.2" y="655.5" font-family="Liberation Sans" font-size="4.5" font-weight="bold" fill="#000" text-anchor="middle">C18</text>
<rect x="418.5" y="634.6" width="8.6" height="2.4" fill="#999"/>
<rect x="428.2" y="638.4" width="3" height="2.8" fill="none" stroke="#000" stroke-width="1"/>
<path d="M488.2,657.2 L488.2,664.6" fill="none" stroke="#000" stroke-width="2.2" />
<path d="M438.3,682.6 L452.9,682.6" fill="none" stroke="#000" stroke-width="2.2" />
<path d="M373,812 L373,819.5" fill="none" stroke="#000" stroke-width="2.2" />
<rect x="480" y="780.4" width="37.8" height="18.4" fill="none" stroke="#000" stroke-width="1.5" />
<rect x="480" y="780.4" width="9.4" height="18.4" fill="#1a0a0a" stroke="#000" stroke-width="1.5" />
<path d="M498.9,780.4 L498.9,798.8" fill="none" stroke="#000" stroke-width="1.3" />
<path d="M508.3,780.4 L508.3,798.8" fill="none" stroke="#000" stroke-width="1.3" />
<text font-family="Liberation Sans" font-size="6.6" font-weight="bold" fill="#000" textLength="10.6" lengthAdjust="spacingAndGlyphs" transform="translate(413.7 824.6) rotate(-90)">+5V</text>
<text font-family="Liberation Sans" font-size="6.6" font-weight="bold" fill="#000" textLength="12" lengthAdjust="spacingAndGlyphs" transform="translate(425.3 824.6) rotate(-90)">FO&#8722;</text>
<text font-family="Liberation Sans" font-size="6.6" font-weight="bold" fill="#000" textLength="12" lengthAdjust="spacingAndGlyphs" transform="translate(438.0 824.6) rotate(-90)">FO+</text>
<text font-family="Liberation Sans" font-size="6.6" font-weight="bold" fill="#000" textLength="11.4" lengthAdjust="spacingAndGlyphs" transform="translate(450.7 824.6) rotate(-90)">FR&#8722;</text>
<text font-family="Liberation Sans" font-size="6.6" font-weight="bold" fill="#000" textLength="11.4" lengthAdjust="spacingAndGlyphs" transform="translate(464.3 825.3) rotate(-90)">FR+</text>
<text font-family="Liberation Sans" font-size="6.6" font-weight="bold" fill="#000" textLength="10.8" lengthAdjust="spacingAndGlyphs" transform="translate(477.0 824.6) rotate(-90)">GND</text>
<text font-family="Liberation Sans" font-size="6.6" font-weight="bold" fill="#000" textLength="11.4" lengthAdjust="spacingAndGlyphs" transform="translate(487.3 821.4) rotate(-90)">F/1</text>
<text font-family="Liberation Sans" font-size="6.6" font-weight="bold" fill="#000" textLength="15.4" lengthAdjust="spacingAndGlyphs" transform="translate(496.0 821.4) rotate(-90)">F/32</text>
<text font-family="Liberation Sans" font-size="6.6" font-weight="bold" fill="#000" textLength="15.4" lengthAdjust="spacingAndGlyphs" transform="translate(506.3 821.4) rotate(-90)">F/64</text>
<text font-family="Liberation Sans" font-size="6.6" font-weight="bold" fill="#000" textLength="18.4" lengthAdjust="spacingAndGlyphs" transform="translate(516.6999999999999 821.4) rotate(-90)">F/128</text>
</svg>
</body></html>
